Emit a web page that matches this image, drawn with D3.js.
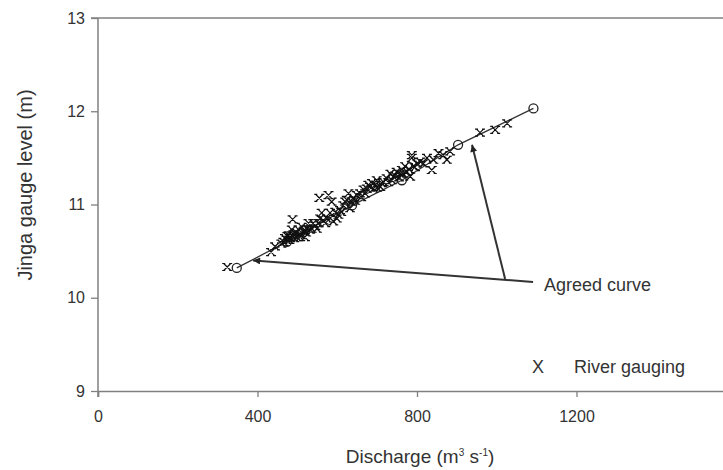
<!DOCTYPE html>
<html>
<head>
<meta charset="utf-8">
<script src="https://cdn.jsdelivr.net/npm/d3@7"></script>
<style>
  html, body { margin: 0; padding: 0; background: #fff; }
  svg { display: block; font-family: Arial, "Liberation Sans", Helvetica, sans-serif; }
</style>
</head>
<body>
<div id="chart"></div>
<script>
// river gauging points: discharge (m3/s), Jinga gauge level (m)
const gaugingQ = [324, 434, 444, 469, 478, 486, 488, 494, 503, 507, 515, 524, 528, 532, 540, 549,
  557, 555, 578, 586, 561, 574, 590, 595, 603, 607, 615, 624, 628, 632, 640, 649, 657, 666, 674,
  682, 687, 695, 699, 708, 716, 724, 733, 741, 749, 758, 770, 775, 783, 787, 791, 808, 816, 837,
  841, 854, 866, 875, 883, 958, 996, 1026, 473, 482, 499, 486, 511, 519, 536, 553, 582, 599, 620,
  636, 678, 691, 737, 762, 800, 825, 787,
  465, 475, 480, 490, 492, 497, 505, 510, 517, 522, 545, 565, 570, 610, 645, 660, 670, 700, 712,
  728, 745, 755, 765, 780, 795, 460]
const gaugingH = [10.33, 10.49, 10.55, 10.64, 10.67, 10.73, 10.84, 10.69, 10.73, 10.65, 10.71, 10.74,
  10.80, 10.73, 10.80, 10.74, 10.85, 11.07, 11.10, 11.03, 10.91, 10.85, 10.82, 10.92, 10.89, 10.94,
  10.99, 11.05, 11.12, 10.96, 11.07, 11.10, 11.12, 11.16, 11.17, 11.19, 11.23, 11.21, 11.26, 11.19,
  11.24, 11.28, 11.33, 11.30, 11.35, 11.33, 11.41, 11.35, 11.30, 11.50, 11.41, 11.46, 11.44, 11.37,
  11.48, 11.55, 11.53, 11.48, 11.57, 11.77, 11.80, 11.87, 10.62, 10.64, 10.65, 10.67, 10.76, 10.65,
  10.74, 10.80, 10.91, 10.85, 11.03, 11.03, 11.21, 11.17, 11.26, 11.37, 11.44, 11.50, 11.53,
  10.60, 10.66, 10.62, 10.68, 10.64, 10.70, 10.68, 10.67, 10.72, 10.70, 10.77, 10.83, 10.80, 10.92,
  11.04, 11.08, 11.12, 11.18, 11.23, 11.24, 11.31, 11.29, 11.33, 11.38, 11.40, 10.58]

// agreed rating curve nodes
const curveQ = [348, 474, 637, 762, 903, 1092]
const curveH = [10.32, 10.60, 10.99, 11.26, 11.64, 12.03]

// annotation arrows (data units)
const arrowTips = [[389, 10.40], [938, 11.64]]
const arrowJoin = [1021, 10.20]
const arrowEnd = [1091, 10.17]

const xTicks = [0, 400, 800, 1200]
const yTicks = [9, 10, 11, 12, 13]

const width = 723, height = 470
const axisColor = '#808080', textColor = '#333'

const x = d3.scaleLinear().domain([0, 1600]).range([98, 736])
const y = d3.scaleLinear().domain([9, 13]).range([391, 18])

const svg = d3.select('#chart').append('svg')
  .attr('width', width)
  .attr('height', height)

svg.append('defs').append('marker')
  .attr('id', 'head')
  .attr('viewBox', '0 0 10 10')
  .attr('refX', 10).attr('refY', 5)
  .attr('markerWidth', 8).attr('markerHeight', 7)
  .attr('markerUnits', 'userSpaceOnUse')
  .attr('orient', 'auto')
  .append('path')
  .attr('d', 'M0,0 L10,5 L0,10 Z')
  .attr('fill', '#222')

// axes
const xAxis = svg.append('g')
  .attr('transform', `translate(0, ${y(9)})`)
  .call(d3.axisBottom(x).tickValues(xTicks).tickFormat(d3.format('d')).tickSize(6).tickPadding(14))
const yAxis = svg.append('g')
  .attr('transform', `translate(${x(0)}, 0)`)
  .call(d3.axisLeft(y).tickValues(yTicks).tickFormat(d3.format('d')).tickSize(7).tickPadding(6))

;[xAxis, yAxis].forEach(g => {
  g.select('.domain').attr('stroke', axisColor).attr('stroke-width', 1.5)
  g.selectAll('.tick line').attr('stroke', axisColor).attr('stroke-width', 1.3)
  g.selectAll('.tick text').attr('fill', textColor).attr('font-size', 16)
    .attr('font-family', 'Arial, "Liberation Sans", sans-serif')
})
yAxis.select('.domain').attr('d', `M0,${y(13)}V${y(9) + 6}`)

// top frame line
svg.append('line')
  .attr('x1', x(0) - 7).attr('x2', width)
  .attr('y1', y(13)).attr('y2', y(13))
  .attr('stroke', axisColor).attr('stroke-width', 1.5)

// axis titles
const xTitle = svg.append('text')
  .attr('x', 420).attr('y', 463)
  .attr('text-anchor', 'middle')
  .attr('font-size', 19).attr('fill', textColor)
xTitle.append('tspan').text('Discharge (m')
xTitle.append('tspan').attr('font-size', 10).attr('dy', -7).text('3')
xTitle.append('tspan').attr('dy', 7).text(' s')
xTitle.append('tspan').attr('font-size', 10).attr('dy', -7).text('-1')
xTitle.append('tspan').attr('dy', 7).text(')')

svg.append('text')
  .attr('transform', 'translate(32, 185) rotate(-90)')
  .attr('text-anchor', 'middle')
  .attr('font-size', 20).attr('fill', textColor)
  .text('Jinga gauge level (m)')

// agreed curve
svg.append('path')
  .datum(d3.zip(curveQ, curveH))
  .attr('d', d3.line().x(d => x(d[0])).y(d => y(d[1])))
  .attr('fill', 'none').attr('stroke', '#333').attr('stroke-width', 1.3)

svg.append('g').selectAll('circle')
  .data(d3.zip(curveQ, curveH)).enter()
  .append('circle')
  .attr('cx', d => x(d[0])).attr('cy', d => y(d[1]))
  .attr('r', 4.5)
  .attr('fill', 'none').attr('stroke', '#222').attr('stroke-width', 1.3)

// gauging crosses
const s = 3.5
svg.append('g').selectAll('path')
  .data(d3.zip(gaugingQ, gaugingH)).enter()
  .append('path')
  .attr('d', d => {
    const cx = x(d[0]), cy = y(d[1])
    return `M${cx - s},${cy - s}L${cx + s},${cy + s}M${cx + s},${cy - s}L${cx - s},${cy + s}` +
      `M${cx - s - 1.5},${cy - s}h3M${cx + s - 1.5},${cy - s}h3M${cx - s - 1.5},${cy + s}h3M${cx + s - 1.5},${cy + s}h3`
  })
  .attr('fill', 'none').attr('stroke', '#111').attr('stroke-width', 1.2)

// annotation arrows
svg.append('line')
  .attr('x1', x(arrowEnd[0])).attr('y1', y(arrowEnd[1]))
  .attr('x2', x(arrowTips[0][0])).attr('y2', y(arrowTips[0][1]))
  .attr('stroke', '#333').attr('stroke-width', 2)
  .attr('marker-end', 'url(#head)')
svg.append('line')
  .attr('x1', x(arrowJoin[0])).attr('y1', y(arrowJoin[1]))
  .attr('x2', x(arrowTips[1][0])).attr('y2', y(arrowTips[1][1]))
  .attr('stroke', '#333').attr('stroke-width', 2)
  .attr('marker-end', 'url(#head)')

svg.append('text')
  .attr('x', x(arrowEnd[0]) + 11).attr('y', y(arrowEnd[1]) + 9)
  .attr('font-size', 18).attr('fill', textColor)
  .text('Agreed curve')

// legend
svg.append('text')
  .attr('x', 532).attr('y', 373)
  .attr('font-size', 18).attr('fill', textColor)
  .text('X')
svg.append('text')
  .attr('x', 574).attr('y', 373)
  .attr('font-size', 18).attr('fill', textColor)
  .text('River gauging')
</script>
</body>
</html>
